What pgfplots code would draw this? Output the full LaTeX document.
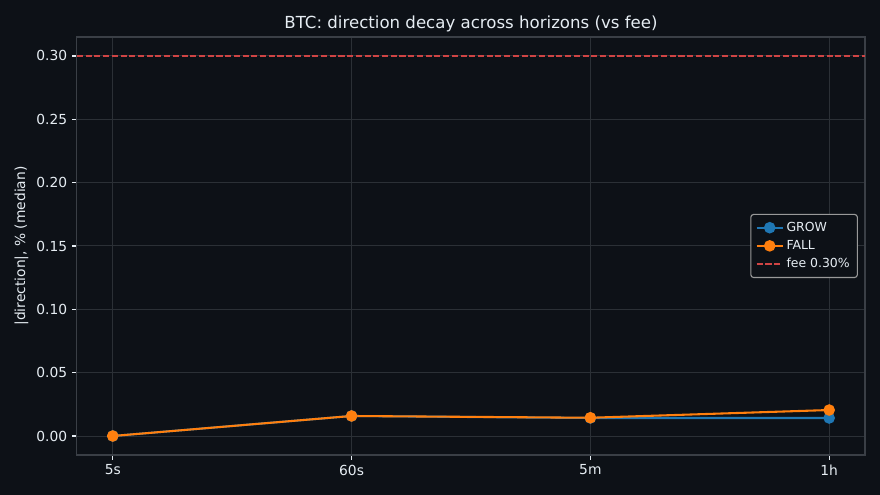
\documentclass[border=0pt]{standalone}
\usepackage{fontspec}
\setmainfont{DejaVu Sans}
\usepackage{pgfplots}
\pgfplotsset{compat=1.18}
\definecolor{bg}{HTML}{0D1117}
\definecolor{fg}{HTML}{E6EDF3}
\definecolor{gridc}{HTML}{2B3036}
\definecolor{spine}{HTML}{3A3F46}
\definecolor{growc}{HTML}{1F77B4}
\definecolor{fallc}{HTML}{FF7F0E}
\definecolor{feec}{HTML}{CF4444}
\begin{document}
\begin{tikzpicture}
\fill[bg] (-55.4bp,-28.8bp) rectangle (578.2bp,327.6bp);
\useasboundingbox (-55.4bp,-28.8bp) rectangle (578.2bp,327.6bp);
\begin{axis}[
  at={(0,0)}, anchor=south west,
  scale only axis, width=567.4bp, height=301bp,
  xmin=-0.15, xmax=3.15, ymin=-0.015, ymax=0.315,
  xtick={0,1,2,3}, xticklabels={5s,60s,5m,1h},
  ytick={0,0.05,0.10,0.15,0.20,0.25,0.30},
  yticklabel style={/pgf/number format/.cd,fixed,fixed zerofill,precision=2},
  /pgf/number format/assume math mode=true,
  ticklabel style={font=\fontsize{10}{12}\selectfont, color=fg},
  tick style={color=fg, line width=0.8pt},
  major tick length=3.5pt,
  tick align=outside,
  xtick pos=bottom, ytick pos=left,
  axis line style={color=spine, line width=0.8pt},
  grid=major, major grid style={color=gridc, line width=0.7pt},
  title={BTC: direction decay across horizons (vs fee)},
  title style={font=\fontsize{12}{14}\selectfont, color=fg, yshift=-6pt},
  ylabel={|direction|, \% (median)},
  ylabel style={font=\fontsize{10}{12}\selectfont, color=fg, yshift=-1pt},
  legend style={at={(rel axis cs:0.991,0.5)}, anchor=east,
    fill=bg, draw=gray!80, rounded corners=2pt, text=fg,
    font=\fontsize{9}{11}\selectfont, line width=0.8pt,
    row sep=1pt, inner sep=3.5pt},
  legend cell align=left,
  legend image code/.code={\draw[mark repeat=2,mark phase=2] plot coordinates {(0cm,0cm) (0.33cm,0cm) (0.66cm,0cm)};},
]
\addplot[color=growc, line width=1.5pt, mark=*, mark size=3.4pt, mark options={fill=growc, draw=growc}]
  coordinates {(0,0.0) (1,0.0158) (2,0.0142) (3,0.0142)};
\addlegendentry{GROW}
\addplot[color=fallc, line width=1.5pt, mark=*, mark size=3.4pt, mark options={fill=fallc, draw=fallc}]
  coordinates {(0,0.0) (1,0.0158) (2,0.0144) (3,0.0205)};
\addlegendentry{FALL}
\addplot[color=feec, line width=1.1pt, dash pattern=on 4.4pt off 1.9pt]
  coordinates {(-0.15,0.30) (3.15,0.30)};
\addlegendentry{fee 0.30\%}
\end{axis}
\end{tikzpicture}
\end{document}
